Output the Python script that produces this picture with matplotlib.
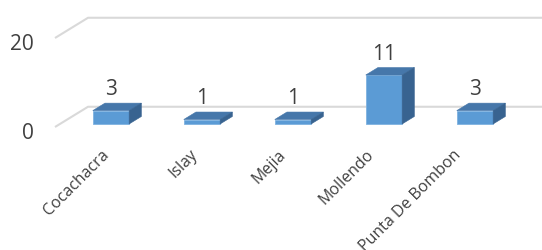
import matplotlib.pyplot as plt
from matplotlib.patches import Polygon

plt.rcParams['font.family'] = ['Open Sans', 'DejaVu Sans']

categories = ['Cocachacra', 'Islay', 'Mejia', 'Mollendo', 'Punta De Bombon']
values = [3, 1, 1, 11, 3]
gridLevels = [0, 20]

textColor = '#404040'
gridColor = '#D9D9D9'
frontColor = '#5B9BD5'
topColor = '#4677AA'
sideColor = '#386390'

# oblique depth vector (category units, value units) for full floor depth
ddx = 33 / 91
ddy = 20 / 4.4
f0, f1 = 0.15, 0.52   # bar depth range within floor
halfW = 0.2

fig = plt.figure(figsize=(5.42, 2.51), dpi=100)
ax = fig.add_axes([0, 0, 1, 1])
ax.set_xlim(-106 / 91, (542 - 106) / 91)
ax.set_ylim((128 - 251) / 4.45, 128 / 4.45)
ax.axis('off')

xLeft = (55 - 106) / 91
xRight = ax.get_xlim()[1]
for g in gridLevels:
    ax.plot([xLeft, xLeft + ddx, xRight], [g, g + ddy, g + ddy],
            color=gridColor, lw=1.5, solid_capstyle='butt', zorder=1)
    ax.text(xLeft - 0.23, g - 1.2, str(g), ha='right', va='center',
            fontsize=15, color=textColor)

for i, (cat, v) in enumerate(zip(categories, values)):
    x0 = i - halfW + f0 * ddx
    x1 = i + halfW + f0 * ddx
    y0 = f0 * ddy
    y1 = v + f0 * ddy
    sx = (f1 - f0) * ddx
    sy = (f1 - f0) * ddy
    front = Polygon([(x0, y0), (x1, y0), (x1, y1), (x0, y1)],
                    closed=True, fc=frontColor, ec='#7FB2E0', lw=0.6, zorder=3)
    top = Polygon([(x0, y1), (x1, y1), (x1 + sx, y1 + sy), (x0 + sx, y1 + sy)],
                  closed=True, fc=topColor, ec=topColor, lw=0.4, zorder=3)
    side = Polygon([(x1, y0), (x1 + sx, y0 + sy), (x1 + sx, y1 + sy), (x1, y1)],
                   closed=True, fc=sideColor, ec=sideColor, lw=0.4, zorder=3)
    for p in (front, top, side):
        ax.add_patch(p)
    ax.annotate(str(v), xy=((x0 + x1) / 2, y1 + sy), xytext=(0, 6.5),
                textcoords='offset points', ha='center', va='baseline',
                fontsize=15, color=textColor)
    # labels sit on the front edge, which is slightly narrower in the view
    ax.text(i * 0.967 - 0.05, -4.2, cat, rotation=45, rotation_mode='anchor',
            ha='right', va='top', fontsize=11.5, color=textColor)

fig.savefig('out.png', dpi=100)
